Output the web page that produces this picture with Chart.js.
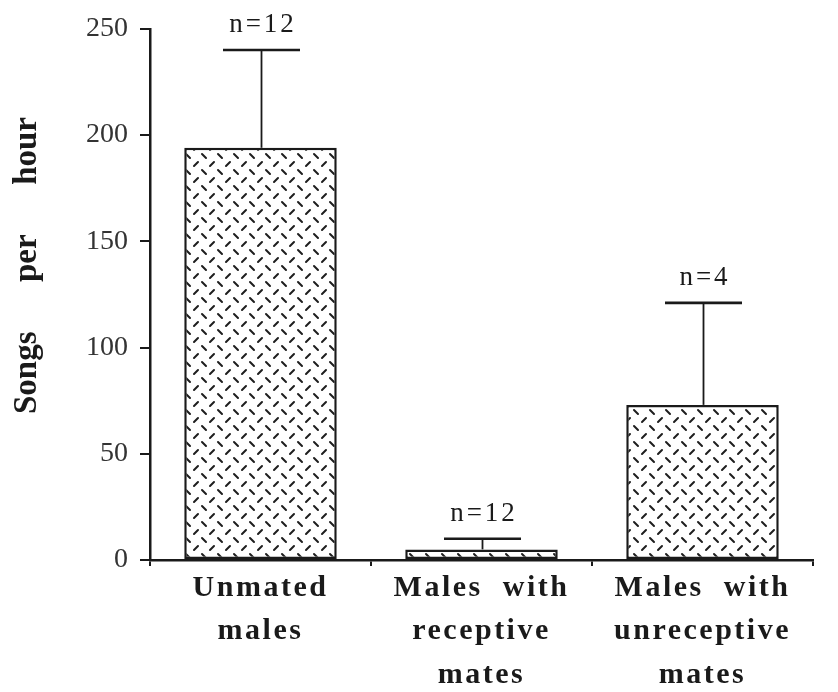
<!DOCTYPE html>
<html>
<head>
<meta charset="utf-8">
<script src="https://cdn.jsdelivr.net/npm/chart.js@4/dist/chart.umd.min.js"></script>
<style>
  html, body { margin: 0; padding: 0; background: #fff; }
  #wrap { width: 838px; height: 692px; }
</style>
</head>
<body>
<div id="wrap"><canvas id="c" width="838" height="692"></canvas></div>
<script>
// Song output of males by mating status (mean + upper SE)
const categories = [
  ['Unmated', 'males'],
  ['Males  with', 'receptive', 'mates'],
  ['Males  with', 'unreceptive', 'mates']
];
const meanSongs = [194, 5, 73];
const upperError = [240, 10, 121];
const sampleSizes = ['n=12', 'n=12', 'n=4'];
const yTicks = [0, 50, 100, 150, 200, 250];
const yTitle = '       Songs      per      hour';

const INK = '#1a1a1a';

// Category axis whose labels are drawn with extra letter spacing
class SpacedCategoryScale extends Chart.CategoryScale {
  drawLabels(chartArea) {
    const ctx = this.ctx;
    ctx.save();
    ctx.letterSpacing = '2.5px';
    super.drawLabels(chartArea);
    ctx.restore();
  }
}
SpacedCategoryScale.id = 'spacedCategory';
SpacedCategoryScale.defaults = Chart.CategoryScale.defaults;
Chart.register(SpacedCategoryScale);

// Dashed diamond-lattice fill for the bars
function makeHatch(ctx) {
  const t = document.createElement('canvas');
  t.width = 16; t.height = 16;
  const g = t.getContext('2d');
  g.fillStyle = '#fff';
  g.fillRect(0, 0, 16, 16);
  g.strokeStyle = '#1e1e1e';
  g.lineWidth = 2;
  g.lineCap = 'round';
  g.beginPath();
  g.moveTo(2, 6); g.lineTo(6, 2);
  g.moveTo(10, 10); g.lineTo(14, 14);
  g.stroke();
  return ctx.createPattern(t, 'repeat');
}

// Upper error whiskers with the sample size written above each cap
const errorBars = {
  id: 'errorBars',
  afterDatasetsDraw(chart) {
    const ctx = chart.ctx;
    const y = chart.scales.y;
    const bars = chart.getDatasetMeta(0).data;
    ctx.save();
    ctx.strokeStyle = INK;
    ctx.fillStyle = INK;
    bars.forEach((bar, i) => {
      const cx = Math.round(bar.x) + 0.5;
      const top = y.getPixelForValue(meanSongs[i]);
      const hi = y.getPixelForValue(upperError[i]);
      ctx.lineWidth = 1.8;
      ctx.beginPath();
      ctx.moveTo(cx, top);
      ctx.lineTo(cx, hi);
      ctx.stroke();
      ctx.lineWidth = 2.6;
      ctx.beginPath();
      ctx.moveTo(cx - 38.5, hi);
      ctx.lineTo(cx + 38.5, hi);
      ctx.stroke();
      ctx.font = '27px "Liberation Serif"';
      ctx.letterSpacing = '3px';
      ctx.textAlign = 'center';
      ctx.textBaseline = 'middle';
      ctx.fillText(sampleSizes[i], cx + 1.5, hi - 25);
    });
    ctx.restore();
  }
};

const ctx = document.getElementById('c').getContext('2d');

new Chart(ctx, {
  type: 'bar',
  data: {
    labels: categories,
    datasets: [{
      data: meanSongs,
      backgroundColor: makeHatch(ctx),
      borderColor: INK,
      borderWidth: 2.5,
      borderSkipped: false,
      categoryPercentage: 1,
      barPercentage: 0.69
    }]
  },
  options: {
    responsive: false,
    animation: false,
    devicePixelRatio: 1,
    layout: { padding: { top: 27, right: 25, left: 0, bottom: 0 } },
    plugins: {
      legend: { display: false },
      tooltip: { enabled: false }
    },
    scales: {
      x: {
        type: 'spacedCategory',
        offset: true,
        grid: {
          display: true,
          offset: true,
          drawOnChartArea: false,
          drawTicks: true,
          tickLength: 6,
          color: INK,
          lineWidth: 2
        },
        border: { display: true, color: INK, width: 2.5 },
        ticks: {
          color: INK,
          padding: 0,
          maxRotation: 0,
          autoSkip: false,
          font: { family: 'Liberation Serif', size: 30, weight: 'bold', lineHeight: 1.45 }
        },
        afterFit(scale) { scale.height = 132; }
      },
      y: {
        min: 0,
        max: 250,
        afterBuildTicks(scale) { scale.ticks = yTicks.map(v => ({ value: v })); },
        grid: {
          display: true,
          drawOnChartArea: false,
          drawTicks: true,
          tickLength: 10,
          color: INK,
          lineWidth: 2
        },
        border: { display: true, color: INK, width: 2.5 },
        ticks: {
          color: '#333',
          padding: 12,
          font: { family: 'Liberation Serif', size: 28 }
        },
        title: {
          display: true,
          text: yTitle,
          color: INK,
          padding: { top: 8, bottom: 0 },
          font: { family: 'Liberation Serif', size: 33, weight: 'bold', lineHeight: 1.2 }
        },
        afterFit(scale) { scale.width = 150; }
      }
    }
  },
  plugins: [errorBars]
});
</script>
</body>
</html>
